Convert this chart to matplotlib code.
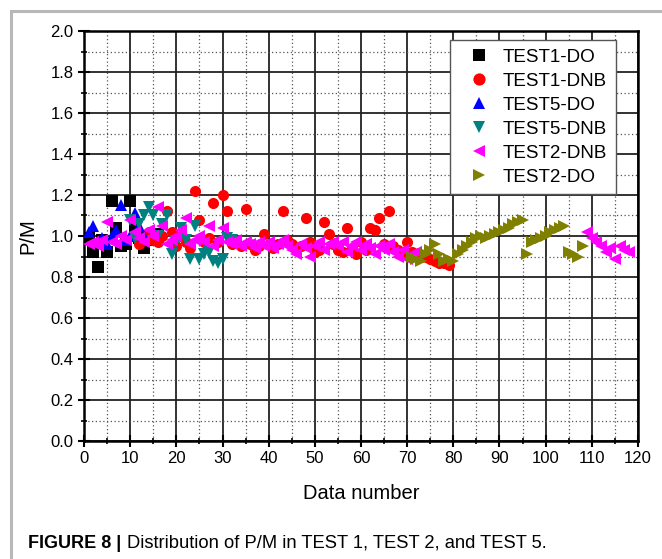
import numpy as np
import matplotlib
matplotlib.use('Agg')
import matplotlib.pyplot as plt
from matplotlib.patches import Rectangle
from matplotlib.ticker import MultipleLocator

plt.rcParams['font.family'] = ['Liberation Sans', 'DejaVu Sans']

# TEST1-DO
t1do_x = [1, 2, 3, 4, 5, 6, 7, 8, 9, 10, 11, 12, 13, 14, 15, 16]
t1do_y = [0.99, 0.92, 0.85, 0.98, 0.92, 1.17, 1.04, 0.95, 0.96, 1.17, 1.05, 0.99, 0.94, 1.00, 0.98, 1.01]

# TEST1-DNB
t1dnb_x = list(range(12, 80))
t1dnb_y = [0.96, 0.99, 1.02, 0.98, 0.97, 1.00, 1.12, 1.02, 0.95, 1.00,
           0.97, 0.94, 1.22, 1.08, 0.97, 0.99, 1.16, 0.97, 1.20, 1.12,
           0.96, 0.97, 0.95, 1.13, 0.96, 0.93, 0.95, 1.01, 0.96, 0.94,
           0.96, 1.12, 0.98, 0.96, 0.93, 0.95, 1.09, 0.97, 0.92, 0.93,
           1.07, 1.01, 0.96, 0.93, 0.92, 1.04, 0.94, 0.91, 0.97, 0.93,
           1.04, 1.03, 1.09, 0.96, 1.12, 0.95, 0.93, 0.92, 0.97, 0.92,
           0.91, 0.90, 0.90, 0.89, 0.88, 0.87, 0.87, 0.86]

# TEST5-DO
t5do_x = [1, 2, 3, 4, 5, 6, 7, 8, 9, 10, 11, 12, 13]
t5do_y = [1.02, 1.05, 0.97, 0.99, 0.96, 1.00, 1.03, 1.15, 0.98, 1.00, 1.11, 1.05, 1.00]

# TEST5-DNB
t5dnb_x = list(range(10, 33))
t5dnb_y = [1.08, 0.99, 1.06, 1.10, 1.14, 1.10, 1.00, 1.06, 1.10, 0.91,
           0.97, 1.04, 0.98, 0.89, 1.05, 0.89, 0.91, 0.92, 0.88, 0.87,
           0.89, 0.99, 0.98]

# TEST2-DNB
t2dnb_x = list(range(1, 73)) + [109, 110, 111, 112, 113, 114, 115, 116, 117, 118]
t2dnb_y = [0.96, 0.97, 0.95, 0.98, 1.07, 0.97, 0.96, 1.00, 0.98, 1.08,
           1.02, 0.99, 0.97, 1.03, 1.00, 1.14, 1.05, 0.96, 0.98, 1.00,
           1.03, 1.09, 0.96, 0.98, 1.00, 0.97, 1.05, 0.95, 0.98, 1.04,
           0.97, 0.96, 0.98, 0.95, 0.97, 0.96, 0.94, 0.97, 0.95, 0.97,
           0.94, 0.96, 0.98, 0.95, 0.93, 0.91, 0.96, 0.94, 0.90, 0.95,
           0.97, 0.93, 0.96, 0.97, 0.95, 0.97, 0.92, 0.95, 0.97, 0.93,
           0.96, 0.94, 0.91, 0.95, 0.93, 0.96, 0.92, 0.90, 0.93, 0.89,
           0.91, 0.92,
           1.02, 0.99, 0.97, 0.95, 0.92, 0.94, 0.89, 0.95, 0.93, 0.92]

# TEST2-DO
t2do_x = [71, 72, 73, 74, 75, 76, 77, 78, 79, 80, 81, 82, 83, 84, 85, 86, 87, 88,
          89, 90, 91, 92, 93, 94, 95, 96, 97, 98, 99, 100, 101, 102, 103, 104,
          105, 106, 107, 108]
t2do_y = [0.90, 0.89, 0.88, 0.91, 0.93, 0.96, 0.91, 0.88, 0.89, 0.88, 0.91, 0.93,
          0.95, 0.97, 0.99, 1.00, 0.99, 1.00, 1.01, 1.02, 1.03, 1.04, 1.06, 1.07,
          1.08, 0.91, 0.97, 0.98, 0.99, 1.00, 1.02, 1.03, 1.04, 1.05, 0.92, 0.91,
          0.90, 0.95]

series = [
    (t1do_x, t1do_y, 's', 'black', 'TEST1-DO'),
    (t1dnb_x, t1dnb_y, 'o', '#ff0000', 'TEST1-DNB'),
    (t5do_x, t5do_y, '^', '#0000ff', 'TEST5-DO'),
    (t5dnb_x, t5dnb_y, 'v', '#008080', 'TEST5-DNB'),
    (t2dnb_x, t2dnb_y, '<', '#ff00ff', 'TEST2-DNB'),
    (t2do_x, t2do_y, '>', '#808000', 'TEST2-DO'),
]

fig = plt.figure(figsize=(6.62, 5.59), dpi=100)
ax = fig.add_axes([84 / 662, 1 - 441 / 559, (638 - 84) / 662, (441 - 31) / 559])

# gray frame around the figure panel
fig.patches.append(Rectangle((11 / 662, -0.1), 1.0, 1 - 11 / 559 + 0.1,
                             transform=fig.transFigure, fill=False,
                             edgecolor='#b8b8b8', lw=2.2, zorder=0))

for x, y, m, c, lab in series:
    ax.plot(x, y, ls='none', marker=m, color=c, markersize=8,
            markeredgewidth=0, label=lab, zorder=3)

ax.set_xlim(0, 120)
ax.set_ylim(0, 2.0)
ax.xaxis.set_major_locator(MultipleLocator(10))
ax.xaxis.set_minor_locator(MultipleLocator(5))
ax.yaxis.set_major_locator(MultipleLocator(0.2))
ax.yaxis.set_minor_locator(MultipleLocator(0.1))
ax.yaxis.set_major_formatter(plt.FormatStrFormatter('%.1f'))

ax.grid(which='major', color='#222222', lw=1.3, ls='-', zorder=1)
ax.grid(which='minor', color='#555555', lw=0.9, ls=(0, (1, 2)), zorder=1)
ax.set_axisbelow(True)

for s in ax.spines.values():
    s.set_linewidth(1.8)
ax.tick_params(which='major', direction='inout', length=8, width=1.5, labelsize=12)
ax.tick_params(which='minor', direction='inout', length=5, width=1.2)

ax.set_xlabel('Data number', fontsize=14.5)
ax.set_ylabel('P/M', fontsize=14.5)
ax.xaxis.set_label_coords(0.5, -0.105)
ax.yaxis.set_label_coords(-0.085, 0.5)

leg = ax.legend(loc='upper right', bbox_to_anchor=(0.960, 0.978), borderaxespad=0,
                fontsize=13.6, frameon=True, fancybox=False, edgecolor='#555555',
                framealpha=1, borderpad=0.45, labelspacing=0.36,
                handletextpad=0.15, handlelength=2.2, markerscale=1.1)
leg.get_frame().set_linewidth(1.0)

fig.canvas.draw()
t1 = fig.text(28 / 662, 1 - 548 / 559, 'FIGURE 8 |', fontsize=13, fontweight='bold',
              va='baseline', ha='left')
bb = t1.get_window_extent(fig.canvas.get_renderer())
fig.text((bb.x1 + 6) / 662, 1 - 548 / 559,
         'Distribution of P/M in TEST 1, TEST 2, and TEST 5.',
         fontsize=13.2, va='baseline', ha='left')

fig.savefig('out.png', dpi=100)
